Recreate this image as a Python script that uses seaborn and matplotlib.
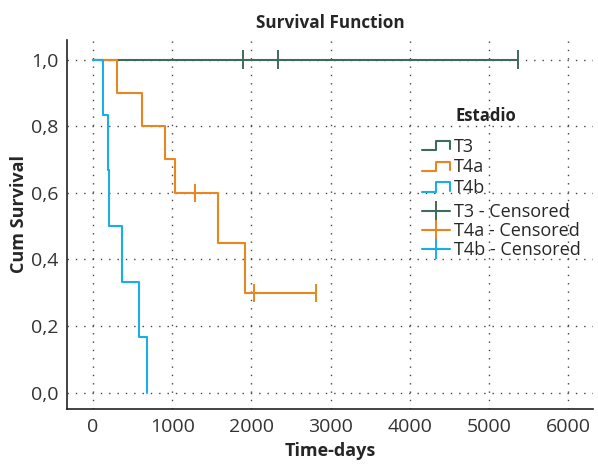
import numpy as np
import pandas as pd
import seaborn as sns
import matplotlib.pyplot as plt
from matplotlib.lines import Line2D
from matplotlib.legend_handler import HandlerBase, HandlerLine2D
from matplotlib.ticker import FuncFormatter

# survival steps (time of change, survival from that time on)
t3_time = [0, 5367]
t3_surv = [1.0, 1.0]
t4a_time = [0, 300, 616, 902, 1034, 1574, 1915, 2810]
t4a_surv = [1.0, 0.9, 0.8, 0.7, 0.6, 0.45, 0.3, 0.3]
t4b_time = [0, 122, 185, 206, 367, 582, 679]
t4b_surv = [1.0, 0.833, 0.667, 0.5, 0.333, 0.167, 0.0]

# censored observations
t3_cens_time = [1899, 2329, 5367]
t3_cens_surv = [1.0, 1.0, 1.0]
t4a_cens_time = [1287, 2030, 2810]
t4a_cens_surv = [0.6, 0.3, 0.3]

groups = ['T3', 'T4a', 'T4b']
colors = {'T3': '#3f6b5a', 'T4a': '#e8861f', 'T4b': '#1aaee6'}

curves = pd.concat([
    pd.DataFrame({'time': t3_time, 'surv': t3_surv, 'Estadio': 'T3'}),
    pd.DataFrame({'time': t4a_time, 'surv': t4a_surv, 'Estadio': 'T4a'}),
    pd.DataFrame({'time': t4b_time, 'surv': t4b_surv, 'Estadio': 'T4b'}),
], ignore_index=True)
cens = pd.concat([
    pd.DataFrame({'time': t3_cens_time, 'surv': t3_cens_surv, 'Estadio': 'T3'}),
    pd.DataFrame({'time': t4a_cens_time, 'surv': t4a_cens_surv, 'Estadio': 'T4a'}),
], ignore_index=True)

sns.set_style('white')
plt.rcParams['font.family'] = ['Open Sans', 'DejaVu Sans']


class HandlerStep(HandlerBase):
    '''draws the little step shape SPSS uses in its legend'''
    def create_artists(self, legend, orig_handle, xdescent, ydescent,
                       width, height, fontsize, trans):
        x0 = -xdescent
        lo = -ydescent + 0.1 * height
        hi = -ydescent + 0.85 * height
        xs = [x0, x0 + 0.5 * width, x0 + 0.5 * width, x0 + width, x0 + width]
        ys = [lo, lo, hi, hi, lo + 0.1 * height]
        ln = Line2D(xs, ys, color=orig_handle.get_color(), lw=1.5, transform=trans)
        return [ln]


fig = plt.figure(figsize=(5.98, 4.65), dpi=100)
ax = fig.add_axes([0.112, 0.12, 0.88, 0.795])

sns.lineplot(data=curves, x='time', y='surv', hue='Estadio', palette=colors,
             drawstyle='steps-post', estimator=None, sort=False, lw=1.5,
             legend=False, ax=ax)
sns.scatterplot(data=cens, x='time', y='surv', hue='Estadio', palette=colors,
                marker='|', s=170, linewidth=1.4, legend=False, ax=ax, zorder=3)

ax.set_xlim(-330, 6315)
ax.set_ylim(-0.05, 1.06)
ax.set_xticks(range(0, 6001, 1000))
ax.set_yticks(np.arange(0, 1.01, 0.2))
ax.yaxis.set_major_formatter(FuncFormatter(lambda v, p: f'{v:.1f}'.replace('.', ',')))
ax.tick_params(length=0, labelsize=14, colors='#333333', pad=6)
ax.grid(True, linestyle=(0, (1, 5)), color='#444444', lw=1)
for s in ['top', 'right']:
    ax.spines[s].set_visible(False)
for s in ['left', 'bottom']:
    ax.spines[s].set_color('#222222')
    ax.spines[s].set_linewidth(1.2)

ax.set_title('Survival Function', fontsize=12.3, fontweight='bold', pad=8)
ax.set_xlabel('Time-days', fontsize=13, fontweight='bold', labelpad=5)
ax.set_ylabel('Cum Survival', fontsize=13, fontweight='bold')
ax.yaxis.set_label_coords(-0.074, 0.528)

# legend: title text + two blocks (curves, censored marks)
ax.text(0.738, 0.794, 'Estadio', transform=ax.transAxes, fontsize=12,
        fontweight='bold', va='center', ha='left', color='#222222')

step_handles = [Line2D([], [], color=colors[g]) for g in groups]
leg1 = ax.legend(step_handles, groups, loc='upper left',
                 bbox_to_anchor=(0.657, 0.759), frameon=False, fontsize=13,
                 handler_map={h: HandlerStep() for h in step_handles},
                 handlelength=1.55, handletextpad=0.22, labelspacing=0.15,
                 borderpad=0)
ax.add_artist(leg1)

cens_handles = [Line2D([], [], color=colors[g], marker='|', ms=14, mew=1.4, lw=1.5)
                for g in groups]
ax.legend(cens_handles, [g + ' - Censored' for g in groups], loc='upper left',
          bbox_to_anchor=(0.657, 0.581), frameon=False, fontsize=13,
          handler_map={h: HandlerLine2D(numpoints=1) for h in cens_handles},
          handlelength=1.55, handletextpad=0.22, labelspacing=0.04, borderpad=0)

fig.savefig('out.png', dpi=100)
